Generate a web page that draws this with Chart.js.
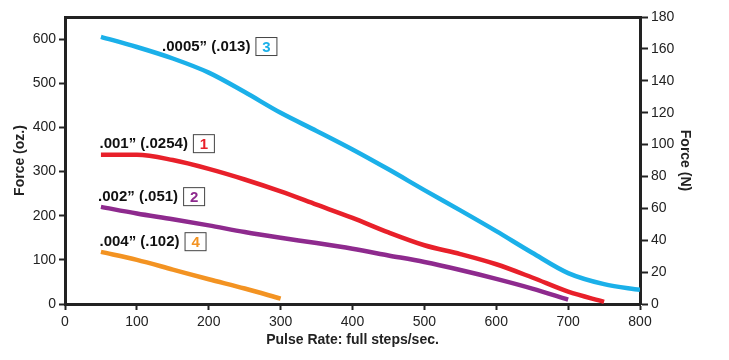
<!DOCTYPE html>
<html>
<head>
<meta charset="utf-8">
<script src="https://cdn.jsdelivr.net/npm/chart.js@4"></script>
<style>
  html, body { margin: 0; padding: 0; background: #fff; }
</style>
</head>
<body>
<canvas id="myChart" width="729" height="360"></canvas>
<script>
const pulseRates = [50, 100, 150, 200, 250, 300, 350, 400, 450, 500, 550, 600, 650, 700, 750, 800];

// force in oz for each curve (null where the curve does not run)
const force0005 = [605, 582, 556, 524, 480, 433, 392, 350, 305, 258, 212, 165, 116, 70, 45, 32];
const force001  = [338, 338, 326, 306, 282, 255, 225, 195, 162, 133, 113, 90, 60, 28, 5, null];
const force002  = [220, 205, 192, 178, 163, 150, 138, 125, 110, 95, 77, 57, 35, 10, null, null];
const force004  = [118, 100, 78, 56, 35, 12, null, null, null, null, null, null, null, null, null, null];

const seriesNames = [".0005” (.013)", ".001” (.0254)", ".002” (.051)", ".004” (.102)"];
const seriesKeys = ["3", "1", "2", "4"];
const seriesColors = ["#1bb0e9", "#e8202a", "#8e2a8e", "#f39322"];

const ozTicks = [0, 100, 200, 300, 400, 500, 600];

const font = "'Liberation Sans', Arial, sans-serif";

// labels next to each curve, anchored in data units
const curveLabels = [
  { x: 135, y: 582 },
  { x: 48, y: 362 },
  { x: 46, y: 242 },
  { x: 48, y: 140 },
];

const labelPlugin = {
  id: "curveLabels",
  afterDatasetsDraw(chart) {
    const { ctx, scales } = chart;
    ctx.save();
    ctx.font = "bold 15px " + font;
    ctx.textBaseline = "middle";
    curveLabels.forEach((p, i) => {
      const x = scales.x.getPixelForValue(p.x);
      const y = scales.y.getPixelForValue(p.y);
      ctx.fillStyle = "#111";
      ctx.textAlign = "left";
      ctx.fillText(seriesNames[i], x, y);
      const w = ctx.measureText(seriesNames[i]).width;
      const bx = x + w + 5;
      ctx.strokeStyle = "#444";
      ctx.lineWidth = 1;
      ctx.strokeRect(bx + 0.5, y - 9.5, 21, 18);
      ctx.fillStyle = seriesColors[i];
      ctx.textAlign = "center";
      ctx.fillText(seriesKeys[i], bx + 11, y + 1);
    });
    ctx.restore();
  }
};

new Chart(document.getElementById("myChart"), {
  type: "line",
  data: {
    labels: pulseRates,
    datasets: [force0005, force001, force002, force004].map((d, i) => ({
      label: seriesNames[i],
      data: d.map((v, j) => ({ x: pulseRates[j], y: v })),
      borderColor: seriesColors[i],
      borderWidth: 4.5,
      pointRadius: 0,
      tension: 0.4,
      cubicInterpolationMode: "monotone",
      spanGaps: false,
      fill: false,
    })),
  },
  options: {
    responsive: false,
    animation: false,
    layout: { padding: { top: 17, left: 0, right: 0, bottom: 0 } },
    plugins: {
      legend: { display: false },
      tooltip: { enabled: false },
    },
    scales: {
      x: {
        type: "linear",
        min: 0,
        max: 800,
        ticks: { stepSize: 100, color: "#222", font: { family: font, size: 14 }, padding: 4 },
        grid: { drawOnChartArea: false, tickLength: 6, tickColor: "#222", tickWidth: 2 },
        border: { color: "#222", width: 3 },
        title: { display: true, text: "Pulse Rate: full steps/sec.", color: "#222", font: { family: font, size: 14, weight: "bold" }, padding: { top: 0, bottom: 11 } },
        afterFit(s) { s.height = 56; },
      },
      top: {
        type: "linear",
        position: "top",
        min: 0,
        max: 800,
        ticks: { display: false },
        grid: { display: false },
        border: { color: "#222", width: 3 },
        afterFit(s) { s.height = 0; },
      },
      y: {
        min: 0,
        max: 650,
        afterBuildTicks(s) { s.ticks = ozTicks.map(v => ({ value: v })); },
        ticks: { color: "#222", font: { family: font, size: 14 }, padding: 3 },
        grid: { drawOnChartArea: false, tickLength: 6, tickColor: "#222", tickWidth: 2 },
        border: { color: "#222", width: 3 },
        title: { display: true, text: "Force (oz.)", color: "#222", font: { family: font, size: 14, weight: "bold" }, padding: { top: 12, bottom: 0 } },
        afterFit(s) { s.width = 65; },
      },
      y2: {
        position: "right",
        min: 0,
        max: 180,
        ticks: { stepSize: 20, color: "#222", font: { family: font, size: 14 }, padding: 3 },
        grid: { drawOnChartArea: false, tickLength: 8, tickColor: "#222", tickWidth: 2 },
        border: { color: "#222", width: 3 },
        title: { display: true, text: "Force (N)", color: "#222", font: { family: font, size: 14, weight: "bold" }, padding: { top: 36, bottom: 0 } },
        afterFit(s) { s.width = 89; },
      },
    },
  },
  plugins: [labelPlugin],
});
</script>
</body>
</html>
